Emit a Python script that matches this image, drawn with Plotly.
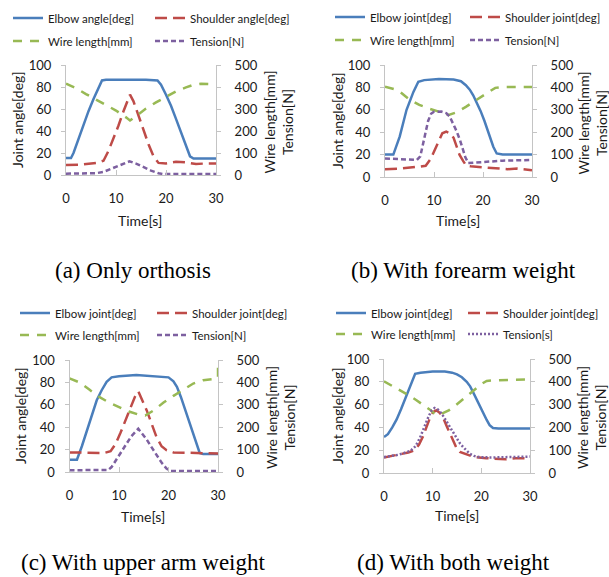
import plotly.graph_objects as go

W, H = 609, 577

# ---------------- data ----------------
CAPTIONS = ["(a) Only orthosis", "(b) With forearm weight",
            "(c) With upper arm weight", "(d) With both weight"]
NAMES_A = ["Elbow angle[deg]", "Shoulder angle[deg]", "Wire length[mm]", "Tension[N]"]
NAMES_B = ["Elbow joint[deg]", "Shoulder joint[deg]", "Wire length[mm]", "Tension[N]"]
NAMES_C = ["Elbow joint[deg]", "Shoulder joint[deg]", "Wire length[mm]", "Tension[N]"]
NAMES_D = ["Elbow joint[deg]", "Shoulder joint[deg]", "Wire length[mm]", "Tension[s]"]
X_TITLE = "Time[s]"
LEFT_TITLE = "Joint angle[deg]"
RIGHT_TITLE = "Wire length[mm]<br>Tension[N]"
X_TICKS = [0, 10, 20, 30]
LEFT_TICKS = [0, 20, 40, 60, 80, 100]
RIGHT_TICKS = [0, 100, 200, 300, 400, 500]

# (time [s], value) pairs
A_ELBOW = [(0, 15.5), (1, 15.5), (1.5, 20), (2.5, 33), (3.5, 46), (4.5, 58), (5.5, 69), (6.5, 79),
           (7.2, 86), (8, 86.5), (12, 86.8), (16, 86.5), (18.3, 86), (19, 82), (20, 73), (21, 63),
           (22, 51), (23, 39), (24, 27), (24.8, 17), (25.5, 15), (30, 15)]
A_SHOULDER = [(0, 9), (3, 9.5), (6, 11), (7.5, 13), (8.5, 22), (9.5, 33), (10.5, 45), (11.5, 58),
              (12.3, 68), (12.8, 73), (13.5, 67), (14.5, 54), (15.5, 40), (16.5, 28), (17.5, 17),
              (18.5, 11), (20, 10.5), (22, 12), (24, 11.5), (26, 10), (28, 10.5), (30, 10.5)]
A_WIRE = [(0, 415), (2, 395), (4, 368), (6, 342), (8, 318), (10, 293), (12, 262), (12.8, 248),
          (14, 268), (16, 302), (18, 330), (20, 356), (22, 380), (24, 398), (25.5, 410), (27, 415),
          (30, 412)]
A_TENSION = [(0, 6), (3, 6), (6, 8), (7.5, 14), (9, 28), (11, 48), (12.7, 62), (14, 52), (15.5, 35),
             (17, 20), (18.5, 8), (19.5, 4), (22, 4), (25, 5), (30, 4)]

B_ELBOW = [(0, 20), (1.7, 20), (3, 36), (4.4, 60), (5.8, 76), (6.8, 85), (8, 86.5), (11, 87.5),
           (14, 87), (15.5, 85.5), (16.5, 82), (17.3, 78), (18, 73), (18.7, 67), (19.5, 59),
           (20.3, 50), (21, 41), (21.5, 35), (22.1, 27), (22.8, 21), (24, 20), (30, 20)]
B_SHOULDER = [(0, 7), (3, 7.5), (6.5, 9), (8.3, 10), (9.3, 16), (10.2, 25), (11, 33), (11.7, 39),
              (12.5, 40.5), (13.3, 39), (14, 35), (14.6, 28), (15.2, 20), (16, 14), (16.6, 10),
              (17.5, 9.5), (19, 9), (21, 8), (23, 7), (25, 7), (27, 7.5), (30, 6)]
B_WIRE = [(0, 403), (2, 392), (3, 381), (5, 346), (7, 322), (9, 305), (11, 292), (13, 277),
          (14.5, 288), (16.5, 313), (18.5, 342), (20.5, 372), (22.5, 398), (24, 402), (30, 402)]
B_TENSION = [(0, 83), (3, 80), (6.5, 76), (7.2, 92), (7.7, 140), (8.2, 195), (8.8, 250), (9.4, 282),
             (10, 291), (11.5, 292), (12.5, 285), (13.2, 270), (13.9, 240), (14.6, 205), (15.3, 165),
             (15.9, 120), (16.4, 88), (17, 62), (18.5, 64), (21, 69), (24, 73), (30, 76)]

C_ELBOW = [(0, 11), (1.5, 11), (2.5, 23), (3.5, 37), (4.5, 51), (5.5, 64), (6.5, 73), (7.5, 80.5),
           (8.5, 84.5), (10, 85.5), (13.5, 86.5), (17.5, 85.5), (20, 84.5), (21, 81), (21.7, 76),
           (22.5, 67), (23.5, 54), (24.5, 40), (25.5, 26), (26.3, 17), (27, 16), (30, 16)]
C_SHOULDER = [(0, 17.5), (4, 17), (7, 17), (8.3, 18.5), (9.3, 25), (10.3, 35), (11.3, 46), (12.3, 58),
              (13.2, 67), (13.9, 72), (14.6, 65), (15.6, 55), (16.6, 43), (17.6, 31), (18.6, 23),
              (19.6, 19.5), (21, 17.5), (24, 17), (27, 16.5), (30, 16.5)]
C_WIRE = [(0, 418), (2, 400), (4, 368), (6, 335), (8, 310), (10, 290), (12, 270), (14, 256),
          (15.3, 252), (17, 275), (19, 310), (21, 340), (23, 368), (25, 395), (27, 410), (29, 417),
          (30, 418), (30, 495)]
C_TENSION = [(0, 8), (4, 8), (7.8, 9), (8.5, 22), (9.5, 58), (10.5, 92), (11.5, 126), (12.5, 160),
             (13.9, 193), (14.7, 172), (15.6, 145), (16.6, 110), (17.6, 75), (18.6, 42), (19.6, 15),
             (20.3, 5), (25, 4), (30, 4)]

D_ELBOW = [(0, 31.5), (0.8, 34), (1.7, 40), (2.6, 47), (3.5, 56), (4.3, 65), (5, 73), (5.7, 80),
           (6.4, 87), (7.5, 88), (10, 89), (12.5, 89), (14, 88), (15, 86.5), (16, 84), (17, 80),
           (17.7, 76), (18.3, 71), (19, 64.5), (19.7, 58), (20.4, 52), (21.1, 46.5), (21.7, 42),
           (22.4, 39.5), (23.5, 39), (30, 39)]
D_SHOULDER = [(0, 13.5), (2.5, 15.5), (5, 18), (6.3, 20), (7.2, 25), (8, 32), (8.8, 41), (9.5, 49),
              (10.1, 53.5), (10.8, 55), (11.5, 52.5), (12.2, 48), (13, 40), (13.6, 34), (14.2, 28),
              (14.9, 22), (15.6, 18.5), (17, 16.5), (18.5, 14), (21, 13), (25, 12), (27, 13), (30, 13)]
D_WIRE = [(0, 402), (1.5, 385), (3.2, 364), (5, 342), (6.6, 320), (8, 300), (9.3, 280), (10.3, 262),
          (11, 254), (12, 262), (13.4, 276), (14.8, 298), (16.1, 320), (17.5, 345), (18.9, 371),
          (20, 390), (21.1, 404), (23, 407), (30, 410)]
D_TENSION = [(0, 70), (3, 80), (5.5, 98), (6.5, 118), (7.4, 155), (8.3, 205), (9.1, 245), (9.8, 275),
             (10.4, 285), (11.1, 278), (11.8, 262), (12.6, 235), (13.5, 203), (14.2, 175), (14.9, 150),
             (15.6, 130), (16.3, 113), (17, 97), (17.6, 85), (18.5, 75), (19.5, 70), (22, 68),
             (25, 70), (30, 72)]

# ---------------- styles / layout geometry (pixels) ----------------
BLUE, RED, GREEN, PURPLE = "#4A7EBB", "#BE4B48", "#98B954", "#7D60A0"
FONT = "Lato, 'Open Sans', sans-serif"
TXT = "#1a1a1a"
AXC = "#c4c4c4"

PANELS = [
    dict(series=(A_ELBOW, A_SHOULDER, A_WIRE, A_TENSION), names=NAMES_A, dot=False,
         x0=66, x1=216, y0=65, y1=175, lt=17, rt=277.5, tx=140, ty=220, cx=133, cy=270,
         rows=(18, 41), cols=(13, 155)),
    dict(series=(B_ELBOW, B_SHOULDER, B_WIRE, B_TENSION), names=NAMES_B, dot=False,
         x0=385, x1=532, y0=65, y1=177, lt=337, rt=592.5, tx=458, ty=220, cx=463, cy=270,
         rows=(17, 40), cols=(335, 470)),
    dict(series=(C_ELBOW, C_SHOULDER, C_WIRE, C_TENSION), names=NAMES_C, dot=False,
         x0=69.5, x1=218, y0=360, y1=472, lt=20, rt=280, tx=143, ty=516, cx=143, cy=562,
         rows=(313, 335), cols=(20, 157)),
    dict(series=(D_ELBOW, D_SHOULDER, D_WIRE, D_TENSION), names=NAMES_D, dot=True,
         x0=384, x1=530, y0=359, y1=473, lt=337, rt=591, tx=457, ty=515, cx=453, cy=562,
         rows=(313, 334), cols=(336, 468)),
]


def px(x):
    return x / W


def py(y):
    return 1 - y / H


fig = go.Figure()
layout = dict(width=W, height=H, margin=dict(l=0, r=0, t=0, b=0, autoexpand=False),
              paper_bgcolor="white", plot_bgcolor="rgba(0,0,0,0)",
              font=dict(family=FONT, color=TXT), annotations=[])

for i, p in enumerate(PANELS):
    k = i + 1
    xa = "x" if k == 1 else f"x{k}"
    yl_n, yr_n = 2 * k - 1, 2 * k
    yl = "y" if yl_n == 1 else f"y{yl_n}"
    yr = f"y{yr_n}"
    leg1 = "legend" if k == 1 else f"legend{2 * k - 1}"
    leg2 = f"legend{2 * k}"

    origin = p["cols"][0] - 5
    w1 = p["cols"][1] - p["cols"][0] - 45           # first-column entry width
    w2 = min(115, W - 3 - (origin + 40 + w1 + 5 + 40))  # second-column entry width

    elbow, shoulder, wire, tension = p["series"]
    styles = [
        (elbow, BLUE, "solid", yl, leg1, w1),
        (shoulder, RED, "12px,6px", yl, leg1, w2),
        (wire, GREEN, "9px,8px", yr, leg2, w1),
        (tension, PURPLE, "2px,2px" if p["dot"] else "5px,3px", yr, leg2, w2),
    ]
    for (data, col, dash, yax, leg, lw), name in zip(styles, p["names"]):
        fig.add_trace(go.Scatter(
            x=[d[0] for d in data], y=[d[1] for d in data], name=name, mode="lines",
            line=dict(color=col, width=2.5, dash=dash), xaxis=xa, yaxis=yax, legend=leg,
            legendwidth=lw, hoverinfo="skip"))

    axkey = "xaxis" if k == 1 else f"xaxis{k}"
    layout[axkey] = dict(domain=[px(p["x0"]), px(p["x1"])], range=[0, 30], tickvals=X_TICKS,
                         showline=True, linecolor=AXC, linewidth=1, ticks="inside", ticklen=5,
                         tickcolor=AXC, showgrid=False, zeroline=False, anchor=yl,
                         tickfont=dict(size=13), ticklabelstandoff=11)
    ylkey = "yaxis" if yl_n == 1 else f"yaxis{yl_n}"
    layout[ylkey] = dict(domain=[py(p["y1"]), py(p["y0"])], range=[0, 100], tickvals=LEFT_TICKS,
                         showline=True, linecolor=AXC, linewidth=1, ticks="outside", ticklen=4,
                         tickcolor=AXC, showgrid=False, zeroline=False, anchor=xa,
                         tickfont=dict(size=13), ticklabelstandoff=7)
    layout[f"yaxis{yr_n}"] = dict(range=[0, 500], tickvals=RIGHT_TICKS, overlaying=yl, side="right",
                                  showline=True, linecolor=AXC, linewidth=1, ticks="outside",
                                  ticklen=4, tickcolor=AXC, showgrid=False, zeroline=False,
                                  anchor=xa, tickfont=dict(size=13), ticklabelstandoff=11)

    cy_mid = (p["y0"] + p["y1"]) / 2
    layout["annotations"] += [
        dict(text=LEFT_TITLE, x=px(p["lt"]), y=py(cy_mid), xref="paper", yref="paper",
             textangle=-90, showarrow=False, font=dict(size=14), xanchor="center", yanchor="middle"),
        dict(text=RIGHT_TITLE, x=px(p["rt"]), y=py(cy_mid + 2), xref="paper", yref="paper",
             textangle=-90, showarrow=False, font=dict(size=14), xanchor="center", yanchor="middle"),
        dict(text=X_TITLE, x=px(p["tx"]), y=py(p["ty"]), xref="paper", yref="paper",
             showarrow=False, font=dict(size=14), xanchor="center", yanchor="middle"),
        dict(text=CAPTIONS[i], x=px(p["cx"]), y=py(p["cy"]), xref="paper", yref="paper",
             showarrow=False, font=dict(size=23, family="'Liberation Serif', 'Times New Roman', serif",
                                        color="black"),
             xanchor="center", yanchor="middle"),
    ]

    for leg, row in ((leg1, p["rows"][0]), (leg2, p["rows"][1])):
        layout[leg] = dict(orientation="h", x=px(origin), xanchor="left",
                           y=py(row), yanchor="middle",
                           bgcolor="rgba(0,0,0,0)", borderwidth=0, font=dict(size=11.5),
                           tracegroupgap=0, itemclick=False, itemdoubleclick=False)

fig.update_layout(**layout)
fig.write_html("out.html", config={"displayModeBar": False},
               post_script="document.body.style.margin='0px';document.body.style.overflow='hidden';")
